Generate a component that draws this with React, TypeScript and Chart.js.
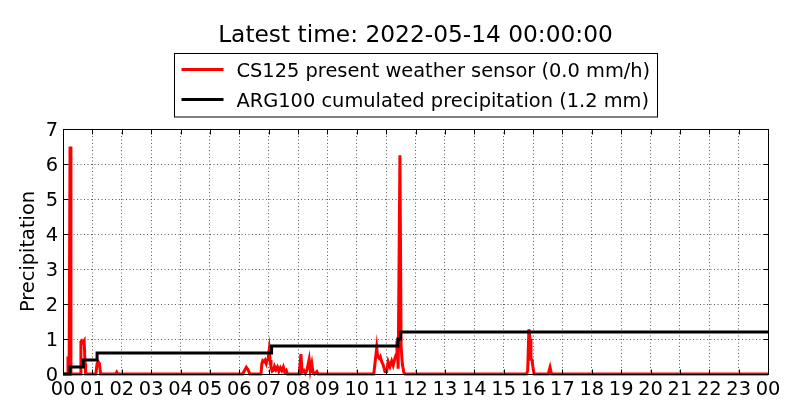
import { useEffect, useRef } from "react"
import { Chart, registerables } from "chart.js"

Chart.register(...registerables)

const TITLE = "Latest time: 2022-05-14 00:00:00"
const SERIES_LABELS = [
  "CS125 present weather sensor (0.0 mm/h)",
  "ARG100 cumulated precipitation (1.2 mm)",
]
const SERIES_COLORS = ["#ff0000", "#000000"]
const Y_LABEL = "Precipitation"
const Y_TICKS = [0, 1, 2, 3, 4, 5, 6, 7]
const X_TICK_HOURS = [0, 1, 2, 3, 4, 5, 6, 7, 8, 9, 10, 11, 12, 13, 14, 15, 16, 17, 18, 19, 20, 21, 22, 23, 24]

// CS125 rain rate (mm/h), time in hours after 00:00
const rateHours = [
  0, 0.15, 0.17, 0.19, 0.21, 0.24, 0.27, 0.58, 0.61, 0.64, 0.68, 0.72, 0.75, 0.77,
  1.12, 1.16, 1.2, 1.24, 1.28, 1.8, 1.83, 1.86,
  6.12, 6.18, 6.24, 6.3, 6.36,
  6.74, 6.77, 6.8, 6.84, 6.88, 6.92, 6.95, 6.98, 7.02, 7.05, 7.08, 7.12, 7.16, 7.2, 7.25,
  7.3, 7.35, 7.4, 7.45, 7.5, 7.55, 7.6, 7.64,
  8.04, 8.1, 8.14, 8.2, 8.25, 8.3, 8.38, 8.42, 8.47, 8.51, 8.56, 8.64, 8.68,
  10.58, 10.62, 10.68, 10.71, 10.76, 10.8, 10.85, 10.9, 10.96, 11.02, 11.07, 11.13, 11.19,
  11.24, 11.3, 11.34, 11.37, 11.41, 11.47, 11.51, 11.55, 11.6, 11.64,
  15.78, 15.82, 15.86, 15.9, 15.93, 15.97, 16.0, 16.04, 16.52, 16.58, 16.63,
  24,
]
const rateValues = [
  0, 0, 0.5, 0.1, 0.4, 6.5, 0, 0, 0.92, 0.95, 0.9, 0.95, 0.3, 0,
  0, 0.3, 0.35, 0.3, 0, 0, 0.05, 0,
  0, 0.1, 0.19, 0.12, 0,
  0, 0.3, 0.38, 0.35, 0.4, 0.3, 0.4, 0.42, 0.69, 0.4, 0.2, 0.08, 0.1, 0.22, 0.12,
  0.2, 0.08, 0.18, 0.1, 0.2, 0.05, 0.1, 0,
  0, 0.57, 0.05, 0.1, 0.02, 0.1, 0.42, 0.1, 0.3, 0.05, 0, 0.07, 0,
  0, 0.3, 0.75, 0.5, 0.45, 0.5, 0.35, 0.26, 0.07, 0.07, 0.35, 0.21, 0.37,
  0.25, 0.45, 0.55, 0.95, 0.15, 6.25, 0.8, 0.3, 0.05, 0,
  0, 0.1, 1.28, 1.0, 0.42, 0.4, 0.17, 0, 0, 0.19, 0,
  0,
]

// ARG100 cumulated precipitation (mm), value reached at each hour
const cumHours = [0, 0.24, 0.69, 1.16, 7.1, 11.4, 11.49, 24]
const cumValues = [0, 0.2, 0.4, 0.6, 0.8, 1.0, 1.2, 1.2]

const FONT = '"DejaVu Sans", sans-serif'

const decorations = {
  id: "decorations",
  afterDraw(chart: Chart) {
    const { ctx, chartArea: a, scales } = chart
    const L = Math.round(a.left) + 0.5
    const R = Math.round(a.right) + 0.5
    const T = Math.round(a.top) + 0.5
    const B = Math.round(a.bottom) + 0.5
    ctx.save()
    ctx.strokeStyle = "#000"
    ctx.lineWidth = 1
    ctx.setLineDash([])
    ctx.strokeRect(L, T, R - L, B - T)

    // inward tick marks on all four sides
    ctx.beginPath()
    X_TICK_HOURS.forEach((h) => {
      const x = Math.round(scales.x.getPixelForValue(h)) + 0.5
      ctx.moveTo(x, B)
      ctx.lineTo(x, B - 5)
      ctx.moveTo(x, T)
      ctx.lineTo(x, T + 5)
    })
    Y_TICKS.forEach((v) => {
      const y = Math.round(scales.y.getPixelForValue(v)) + 0.5
      ctx.moveTo(L, y)
      ctx.lineTo(L + 5, y)
      ctx.moveTo(R, y)
      ctx.lineTo(R - 5, y)
    })
    ctx.stroke()

    const cx = (a.left + a.right) / 2
    ctx.fillStyle = "#000"
    ctx.textBaseline = "alphabetic"
    ctx.textAlign = "center"
    ctx.font = `23.3px ${FONT}`
    ctx.fillText(TITLE, cx, 41.7)

    // legend box
    ctx.font = `19.4px ${FONT}`
    const textW = Math.max(...SERIES_LABELS.map((t) => ctx.measureText(t).width))
    const boxW = 7 + 42 + 13 + textW + 7
    const boxX = Math.round(cx - boxW / 2) + 0.5
    ctx.strokeRect(boxX, 53.5, Math.round(boxW), 63.5)
    ctx.textAlign = "left"
    SERIES_LABELS.forEach((label, i) => {
      const ly = 69.5 + i * 30
      ctx.strokeStyle = SERIES_COLORS[i]
      ctx.lineWidth = 3
      ctx.beginPath()
      ctx.moveTo(boxX + 7, ly)
      ctx.lineTo(boxX + 49, ly)
      ctx.stroke()
      ctx.fillText(label, boxX + 62, 76.7 + i * 30)
    })

    // y axis title
    ctx.translate(29, (a.top + a.bottom) / 2)
    ctx.rotate(-Math.PI / 2)
    ctx.textAlign = "center"
    ctx.textBaseline = "middle"
    ctx.fillText(Y_LABEL, 0, 0)
    ctx.restore()
  },
}

export default function App() {
  const chartRef = useRef<HTMLCanvasElement>(null)
  const chartInstance = useRef<Chart | null>(null)

  useEffect(() => {
    if (!chartRef.current) return
    if (chartInstance.current) chartInstance.current.destroy()

    const rateData = rateHours.map((h, i) => ({ x: h, y: rateValues[i] }))
    const cumData = cumHours.map((h, i) => ({ x: h, y: cumValues[i] }))
    const tickFont = { family: FONT, size: 19.4 }

    chartInstance.current = new Chart(chartRef.current, {
      type: "line",
      data: {
        datasets: [
          {
            label: SERIES_LABELS[0],
            data: rateData,
            borderColor: SERIES_COLORS[0],
            borderWidth: 3,
            pointRadius: 0,
            tension: 0,
            clip: false,
            order: 2,
          },
          {
            label: SERIES_LABELS[1],
            data: cumData,
            borderColor: SERIES_COLORS[1],
            borderWidth: 3,
            pointRadius: 0,
            stepped: "before",
            clip: false,
            order: 1,
          },
        ],
      },
      options: {
        responsive: true,
        maintainAspectRatio: false,
        animation: false,
        events: [],
        layout: { padding: { top: 129, right: 32, left: 0, bottom: 0 } },
        scales: {
          x: {
            type: "linear",
            min: 0,
            max: 24,
            afterBuildTicks: (axis: any) => {
              axis.ticks = X_TICK_HOURS.map((v) => ({ value: v }))
            },
            afterFit: (axis: any) => {
              axis.height = 46
            },
            ticks: {
              color: "#000",
              font: tickFont,
              padding: 4,
              maxRotation: 0,
              autoSkip: false,
              callback: (v: any) => String(Number(v) % 24).padStart(2, "0"),
            },
            grid: { color: "rgba(0,0,0,0.8)", lineWidth: 0.8, drawTicks: false },
            border: { display: false, dash: [1, 2.5] },
          },
          y: {
            min: 0,
            max: 7,
            afterBuildTicks: (axis: any) => {
              axis.ticks = Y_TICKS.map((v) => ({ value: v }))
            },
            afterFit: (axis: any) => {
              axis.width = 63
            },
            ticks: { color: "#000", font: tickFont, padding: 5, labelOffset: 2 },
            grid: { color: "rgba(0,0,0,0.8)", lineWidth: 0.8, drawTicks: false },
            border: { display: false, dash: [1, 2.5] },
          },
        },
        plugins: {
          legend: { display: false },
          title: { display: false },
          tooltip: { enabled: false },
        },
      },
      plugins: [decorations],
    })

    return () => {
      if (chartInstance.current) {
        chartInstance.current.destroy()
        chartInstance.current = null
      }
    }
  }, [])

  return (
    <div style={{ position: "absolute", left: 0, top: 0, width: 800, height: 420, background: "#fff" }}>
      <canvas ref={chartRef} />
    </div>
  )
}
